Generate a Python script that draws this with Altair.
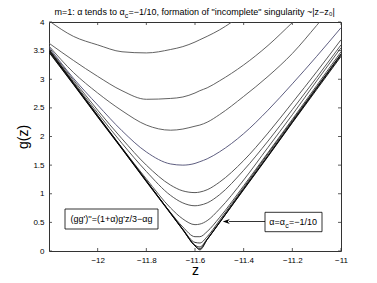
import altair as alt
import pandas as pd

# z grid (x values) shared by all curves
Z = [-12.2, -12.1, -12.0, -11.9, -11.8, -11.7, -11.65, -11.6, -11.58, -11.55,
     -11.5, -11.4, -11.3, -11.2, -11.1, -11.0]

g1 = [4.02, 3.75, 3.60, 3.48, 3.46, 3.52, 3.57, 3.65, 3.69, 3.75, 3.86, 4.15, 4.50, 4.90, 5.30, 5.70]
g2 = [3.63, 3.33, 3.05, 2.80, 2.65, 2.665, 2.69, 2.76, 2.80, 2.85, 2.97, 3.25, 3.59, 3.99, 4.40, 4.80]
g3 = [3.58, 3.12, 2.76, 2.45, 2.20, 2.11, 2.13, 2.18, 2.20, 2.25, 2.38, 2.70, 3.05, 3.45, 3.94, 4.45]
g4 = [3.56, 3.02, 2.55, 2.10, 1.73, 1.52, 1.50, 1.53, 1.56, 1.61, 1.73, 2.05, 2.46, 2.92, 3.40, 3.90]
g5 = [3.53, 2.99, 2.46, 1.96, 1.50, 1.15, 1.05, 1.02, 1.03, 1.07, 1.20, 1.58, 2.06, 2.59, 3.13, 3.69]
g6 = [3.51, 2.96, 2.41, 1.88, 1.39, 0.97, 0.84, 0.79, 0.80, 0.84, 0.98, 1.41, 1.92, 2.47, 3.03, 3.60]
g7 = [3.48, 2.92, 2.35, 1.80, 1.26, 0.75, 0.56, 0.46, 0.47, 0.53, 0.73, 1.24, 1.81, 2.38, 2.97, 3.55]
g8 = [3.49, 2.92, 2.35, 1.79, 1.22, 0.67, 0.42, 0.25, 0.25, 0.34, 0.58, 1.14, 1.72, 2.30, 2.89, 3.48]
g9 = [3.50, 2.93, 2.36, 1.79, 1.23, 0.66, 0.38, 0.15, 0.14, 0.25, 0.53, 1.11, 1.70, 2.28, 2.86, 3.44]
g10 = [3.52, 2.94, 2.37, 1.80, 1.23, 0.66, 0.38, 0.10, 0.07, 0.21, 0.50, 1.09, 1.67, 2.26, 2.85, 3.44]
g11 = [3.50, 2.93, 2.36, 1.79, 1.22, 0.66, 0.37, 0.09, 0.04, 0.20, 0.49, 1.08, 1.66, 2.25, 2.84, 3.42]
g12 = [3.47, 2.91, 2.34, 1.78, 1.21, 0.65, 0.37, 0.09, 0.02, 0.20, 0.49, 1.07, 1.65, 2.24, 2.82, 3.40]

CURVES = [g1, g2, g3, g4, g5, g6, g7, g8, g9, g10, g11, g12]
NAMES = [f"c{i:02d}" for i in range(1, 13)]
COLORS = ["#505050", "#505050", "#505050", "#4c4c72", "#454545", "#454545",
          "#454545", "#3a3a3a", "#2a2a2a", "#111111", "#111111", "#000000"]

X_TICKS = [-12, -11.8, -11.6, -11.4, -11.2, -11]
Y_TICKS = [0, 0.5, 1, 1.5, 2, 2.5, 3, 3.5, 4]

rows = []
for name, vals in zip(NAMES, CURVES):
    for z, g in zip(Z, vals):
        rows.append({"curve": name, "z": z, "g": g})
df = pd.DataFrame(rows)

W, H = 292, 229
FONT = "Liberation Sans"

xscale = alt.Scale(domain=[-12.2, -11], nice=False, zero=False)
yscale = alt.Scale(domain=[0, 4], nice=False, zero=False)

XAXIS = alt.Axis(
    values=X_TICKS, format="~g", ticks=False, tickSize=0, domain=False, grid=False,
    labelPadding=5, labelFontSize=8, labelColor="black", labelFont=FONT,
    labelFlush=False, labelOverlap=False,
    title="z", titleX=W / 2, titleY=23, titleBaseline="alphabetic",
    titleFontSize=14, titleFontWeight="normal", titleFont=FONT, titleColor="black")
YAXIS = alt.Axis(
    values=Y_TICKS, format="~g", ticks=False, tickSize=0, domain=False, grid=False,
    labelPadding=5, labelFontSize=8, labelColor="black", labelFont=FONT,
    labelFlush=False, labelOverlap=False,
    title="g(z)", titleX=-26, titleY=H / 2, titleBaseline="middle",
    titleFontSize=14, titleFontWeight="normal", titleFont=FONT, titleColor="black")

lines = alt.Chart(df).mark_line(clip=True, strokeWidth=0.9, interpolate="monotone").encode(
    x=alt.X("z:Q", scale=xscale, axis=XAXIS),
    y=alt.Y("g:Q", scale=yscale, axis=YAXIS),
    color=alt.Color("curve:N", scale=alt.Scale(domain=NAMES, range=COLORS), legend=None),
)

xt = pd.DataFrame({"z": X_TICKS})
yt = pd.DataFrame({"g": Y_TICKS})
TC = "#333333"
xt_bottom = alt.Chart(xt).mark_rule(color=TC, strokeWidth=0.8).encode(
    x=alt.X("z:Q", scale=xscale, axis=XAXIS), y=alt.value(H), y2=alt.value(H - 3))
xt_top = alt.Chart(xt).mark_rule(color=TC, strokeWidth=0.8).encode(
    x=alt.X("z:Q", scale=xscale, axis=XAXIS), y=alt.value(0), y2=alt.value(3))
yt_left = alt.Chart(yt).mark_rule(color=TC, strokeWidth=0.8).encode(
    y=alt.Y("g:Q", scale=yscale, axis=YAXIS), x=alt.value(0), x2=alt.value(3))
yt_right = alt.Chart(yt).mark_rule(color=TC, strokeWidth=0.8).encode(
    y=alt.Y("g:Q", scale=yscale, axis=YAXIS), x=alt.value(W), x2=alt.value(W - 3))

one = alt.Data(values=[{}])

def txt(text, x, y, size=9, align="left", baseline="alphabetic"):
    return alt.Chart(one).mark_text(text=text, fontSize=size, align=align, baseline=baseline,
                                    font=FONT, color="black").encode(
        x=alt.value(x), y=alt.value(y))

def box(x1, x2, y1, y2):
    return alt.Chart(one).mark_rect(fill="white", stroke="black", strokeWidth=0.8).encode(
        x=alt.value(x1), x2=alt.value(x2), y=alt.value(y1), y2=alt.value(y2))

# title pieces (with subscript c)
t_left = 5.2
title1 = txt("m=1: \u03b1 tends to \u03b1", t_left + 70.4, -7, 9, "right")
title_c = txt("c", t_left + 70.6, -4.5, 7, "left")
title2 = txt("=\u22121/10, formation of \"incomplete\" singularity ~|z\u2212z\u2080|",
             t_left + 74.3, -7, 9, "left")

# left annotation box
lbox = box(16, 109, 187, 207)
ltext = txt("(gg')''=(1+\u03b1)g'z/3\u2212\u03b1g", 62.5, 200.3, 9, "center")

# right annotation box with arrow
rbox = box(216, 273, 190.3, 209.7)
r1 = txt("\u03b1=\u03b1", 236, 203.3, 9, "right")
rc = txt("c", 236.3, 205.6, 7, "left")
r2 = txt("=\u22121/10", 240, 203.3, 9, "left")
arrow_line = alt.Chart(one).mark_rule(color="black", strokeWidth=0.8).encode(
    x=alt.value(180), x2=alt.value(216), y=alt.value(199.5))
arrow_head = alt.Chart(one).mark_point(
    shape="M-1,0L1,-0.7L0.4,0L1,0.7Z", filled=True, color="black", size=50, opacity=1).encode(
    x=alt.value(177.3), y=alt.value(199.5))

chart = alt.layer(
    lines, xt_bottom, xt_top, yt_left, yt_right,
    lbox, ltext, rbox, r1, rc, r2, arrow_line, arrow_head,
    title1, title_c, title2,
).properties(
    width=W, height=H,
    padding={"left": 41, "top": 14, "right": 28, "bottom": 24},
    autosize=alt.AutoSizeParams(type="none"),
    background="white",
).configure(font=FONT).configure_view(stroke="#333333", strokeWidth=1)

chart.save("out.html", embed_options={"renderer": "svg", "actions": False})
